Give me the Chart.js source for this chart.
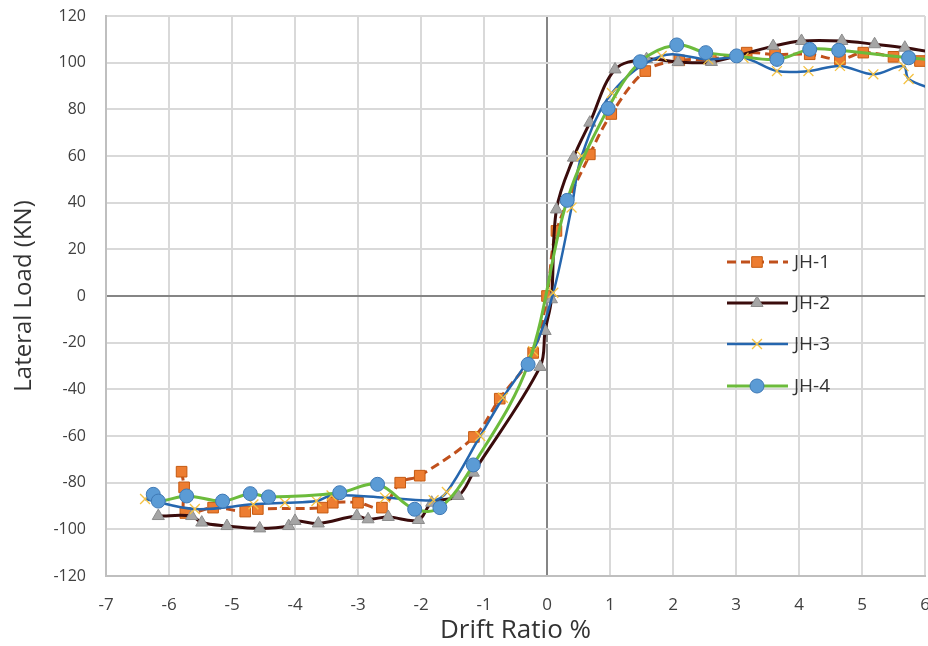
<!DOCTYPE html>
<html>
<head>
<meta charset="utf-8">
<script src="https://cdn.jsdelivr.net/npm/chart.js@4.4.1/dist/chart.umd.min.js"></script>
<style>
  html, body { margin: 0; padding: 0; background: #fff; overflow: hidden; }
  canvas { display: block; }
</style>
</head>
<body>
<canvas id="myChart" width="928" height="646" style="width:928px;height:646px"></canvas>
<script>
const seriesNames = ["JH-1", "JH-2", "JH-3", "JH-4"];

const jh1Drift = [-5.80, -5.76, -5.74, -5.30, -4.79, -4.59, -3.56, -3.40, -3.00, -2.62, -2.33, -2.02, -1.16, -0.75, -0.22, 0.00, 0.15, 0.68, 1.02, 1.56, 2.10, 2.60, 3.17, 3.62, 4.17, 4.65, 5.02, 5.50, 5.92, 6.20];
const jh1Load = [-75.3, -82.0, -93.0, -90.7, -92.4, -91.3, -90.7, -88.6, -88.6, -90.7, -80.0, -77.0, -60.4, -44.0, -24.4, 0.0, 27.9, 60.7, 78.0, 96.4, 101.0, 101.5, 104.3, 103.5, 103.6, 101.4, 104.3, 102.5, 100.7, 100.5];

const jh2Drift = [-6.17, -5.64, -5.48, -5.08, -4.56, -4.10, -4.00, -3.63, -3.02, -2.84, -2.52, -2.04, -1.83, -1.41, -1.17, -0.11, -0.03, 0.07, 0.15, 0.42, 0.68, 1.08, 1.58, 2.08, 2.61, 3.59, 4.04, 4.68, 5.20, 5.68, 6.20];
const jh2Load = [-94.3, -94.3, -97.1, -98.6, -99.6, -98.6, -96.4, -97.5, -94.3, -95.7, -94.7, -96.0, -88.6, -85.7, -75.7, -30.4, -15.0, -1.4, 37.1, 59.3, 74.3, 97.1, 101.5, 100.3, 100.3, 107.1, 109.3, 109.3, 107.9, 106.4, 104.0];

const jh3Drift = [-6.38, -5.59, -4.66, -4.16, -3.66, -3.42, -2.57, -1.80, -1.59, -1.06, -0.70, -0.22, 0.10, 0.39, 0.55, 1.03, 1.82, 2.56, 3.12, 3.65, 4.15, 4.65, 5.18, 5.66, 5.74, 6.20];
const jh3Load = [-87.0, -91.3, -89.3, -88.6, -87.9, -85.5, -86.4, -87.5, -84.0, -60.0, -43.6, -23.6, 1.4, 37.9, 60.0, 87.0, 102.9, 101.4, 102.1, 96.4, 96.4, 98.6, 95.0, 98.5, 93.0, 88.0];

const jh4Drift = [-6.25, -6.17, -5.72, -5.15, -4.71, -4.42, -3.29, -2.69, -2.10, -1.70, -1.17, -0.30, 0.32, 0.97, 1.48, 2.06, 2.52, 3.01, 3.65, 4.17, 4.63, 5.74, 6.20];
const jh4Load = [-85.0, -87.9, -85.7, -87.9, -84.7, -86.1, -84.3, -80.7, -91.4, -90.7, -72.4, -29.3, 41.0, 80.4, 100.4, 107.6, 104.3, 102.9, 101.4, 105.7, 105.3, 102.1, 101.0];

const xTicks = [-7, -6, -5, -4, -3, -2, -1, 0, 1, 2, 3, 4, 5, 6];
const yTicks = [-120, -100, -80, -60, -40, -20, 0, 20, 40, 60, 80, 100, 120];

const pts = (xs, ys) => xs.map((x, i) => ({ x: x, y: ys[i] }));

const styles = [
  { line: "#C0501C", dash: [9, 5], width: 3, point: "rect", radius: 7.5, fill: "#ED7D31", edge: "#C55A11", bw: 1, order: 4 },
  { line: "#3A0C0C", dash: [], width: 3, point: "triangle", radius: 7, fill: "#A5A5A5", edge: "#8C8C8C", bw: 1, order: 3 },
  { line: "#2566AE", dash: [], width: 2.5, point: "crossRot", radius: 7, fill: "#FFC000", edge: "#F5C242", bw: 1.3, order: 2 },
  { line: "#6CBB3C", dash: [], width: 3, point: "circle", radius: 7, fill: "#5B9BD5", edge: "#3F79B5", bw: 1, order: 1 },
];

const allData = [pts(jh1Drift, jh1Load), pts(jh2Drift, jh2Load), pts(jh3Drift, jh3Load), pts(jh4Drift, jh4Load)];

const datasets = seriesNames.map((name, i) => ({
  label: name,
  data: allData[i],
  showLine: true,
  tension: 0.35,
  borderColor: styles[i].line,
  borderWidth: styles[i].width,
  borderDash: styles[i].dash,
  pointStyle: styles[i].point,
  pointRadius: styles[i].radius,
  pointBackgroundColor: styles[i].fill,
  pointBorderColor: styles[i].edge,
  pointBorderWidth: styles[i].bw,
  order: styles[i].order,
}));

// legend drawn inside the plot, like the original
const insideLegend = {
  id: "insideLegend",
  afterDatasetsDraw(chart) {
    const ctx = chart.ctx;
    const rows = [262, 303, 344, 386];
    ctx.save();
    rows.forEach((y, i) => {
      const s = styles[i];
      ctx.beginPath();
      ctx.setLineDash(s.dash);
      ctx.strokeStyle = s.line;
      ctx.lineWidth = s.width;
      ctx.moveTo(727, y);
      ctx.lineTo(788, y);
      ctx.stroke();
      ctx.setLineDash([]);
      ctx.fillStyle = s.fill;
      ctx.strokeStyle = s.edge;
      ctx.lineWidth = s.bw;
      Chart.helpers.drawPoint(ctx, { pointStyle: s.point, radius: s.radius, borderWidth: s.bw, rotation: 0 }, 757, y);
      ctx.fillStyle = "#333333";
      ctx.font = "19px 'Open Sans', sans-serif";
      ctx.textBaseline = "middle";
      ctx.fillText(seriesNames[i], 794, y + 1);
    });
    ctx.restore();
  },
};

const gridColor = (c) => (c.tick && c.tick.value === 0 ? "#858585" : "#d9d9d9");

new Chart(document.getElementById("myChart"), {
  type: "scatter",
  data: { datasets: datasets },
  options: {
    responsive: false,
    animation: false,
    layout: { autoPadding: false, padding: { left: 0, right: 3, top: 16, bottom: 0 } },
    plugins: {
      legend: { display: false },
      tooltip: { enabled: false },
    },
    scales: {
      x: {
        type: "linear",
        min: -7,
        max: 6,
        afterBuildTicks: (s) => { s.ticks = xTicks.map((v) => ({ value: v })); },
        afterFit: (s) => { s.height = 70; s.paddingLeft = 0; s.paddingRight = 0; },
        grid: { color: gridColor, lineWidth: 2, drawTicks: false },
        border: { color: "#bfbfbf", width: 2 },
        ticks: { padding: 19, color: "#404040", font: { family: "'Open Sans', sans-serif", size: 17 } },
        title: {
          display: true,
          text: "Drift Ratio %",
          color: "#333333",
          padding: { top: 0, bottom: 0 },
          font: { family: "'Open Sans', sans-serif", size: 26 },
        },
      },
      y: {
        min: -120,
        max: 120,
        afterBuildTicks: (s) => { s.ticks = yTicks.map((v) => ({ value: v })); },
        afterFit: (s) => { s.width = 106; s.paddingTop = 0; s.paddingBottom = 0; },
        grid: { color: gridColor, lineWidth: 2, drawTicks: false },
        border: { color: "#bfbfbf", width: 2 },
        ticks: { padding: 20, color: "#404040", font: { family: "'Open Sans', sans-serif", size: 16 } },
        title: {
          display: true,
          text: "Lateral Load (KN)",
          color: "#333333",
          padding: { top: 10, bottom: 0 },
          font: { family: "'Open Sans', sans-serif", size: 24 },
        },
      },
    },
  },
  plugins: [insideLegend],
});
</script>
</body>
</html>
